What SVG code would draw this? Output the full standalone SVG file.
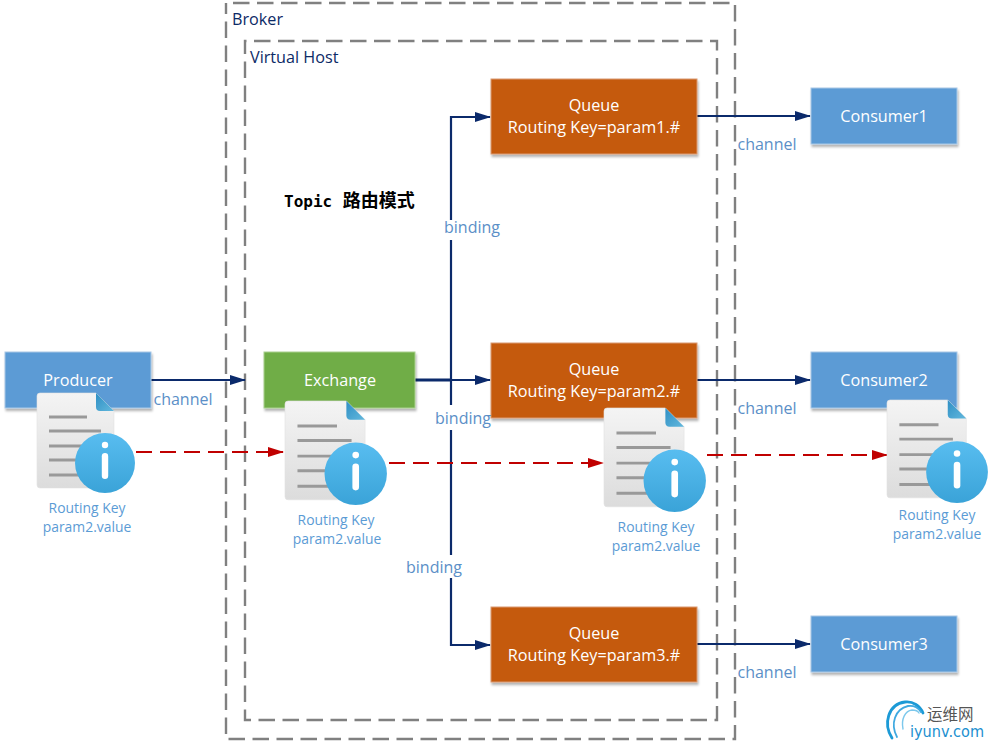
<svg xmlns="http://www.w3.org/2000/svg" width="990" height="747" viewBox="0 0 990 747">
<style>
text{font-family:"Open Sans","Noto Sans","Noto Sans CJK SC",sans-serif}
.box{filter:url(#sh)}
.blue{fill:#5b9bd5;stroke:#a9c8e6;stroke-width:1}
.green{fill:#70ad47;stroke:#a9cf90;stroke-width:1}
.orange{fill:#c55a11;stroke:#d99a70;stroke-width:1}
.w{fill:#fff;font-size:16.2px;text-anchor:middle}
.lab{fill:#5b8fc7;font-size:16px;text-anchor:middle}
.small{fill:#5b9bd5;font-size:13.9px;text-anchor:middle}
.title{fill:#0c2a66;font-size:16.2px}
.frame{fill:none;stroke:#808080;stroke-width:2.4;stroke-dasharray:16.5 7.5}
.c{fill:none;stroke:#0b2a6b;stroke-width:2.2}
.r{fill:none;stroke:#c00000;stroke-width:2;stroke-dasharray:16 8}
</style>
<defs>
<filter id="sh" x="-10%" y="-10%" width="120%" height="125%"><feDropShadow dx="1" dy="2.5" stdDeviation="1.2" flood-color="#000" flood-opacity="0.3"/></filter>
<linearGradient id="paper" x1="0" y1="0" x2="0" y2="1"><stop offset="0" stop-color="#f4f4f4"/><stop offset="1" stop-color="#dcdcdc"/></linearGradient>
<linearGradient id="ball" x1="0" y1="0" x2="0" y2="1"><stop offset="0" stop-color="#58bdf0"/><stop offset="1" stop-color="#3aa3d8"/></linearGradient>
<linearGradient id="fold" x1="0" y1="0" x2="1" y2="1"><stop offset="0" stop-color="#2f8fc4"/><stop offset="1" stop-color="#62b8dd"/></linearGradient>
<marker id="ab" markerUnits="userSpaceOnUse" markerWidth="16" markerHeight="12" refX="15" refY="6" orient="auto"><path d="M0 1L16 6L0 11Z" fill="#0b2a6b"/></marker>
<marker id="ar" markerUnits="userSpaceOnUse" markerWidth="16" markerHeight="12" refX="15" refY="6" orient="auto"><path d="M0 1L16 6L0 11Z" fill="#c00000"/></marker>
<g id="doc">
<path d="M3 0H59L77 18V92Q77 95 74 95H3Q0 95 0 92V3Q0 0 3 0Z" fill="url(#paper)" stroke="#e2e2e2" stroke-width="0.6"/>
<path d="M59 0L77 18H63Q59 18 59 14Z" fill="url(#fold)"/>
<g stroke="#999" stroke-width="2.8" fill="none">
<path d="M12 24H50M12 38H64M12 53H64M12 67H64M12 82H64"/>
</g>
<circle cx="68" cy="70" r="30" fill="url(#ball)"/>
<circle cx="68" cy="52" r="3.2" fill="#fff"/>
<rect x="64.8" y="60" width="6.4" height="26" rx="3.2" fill="#fff"/>
</g>
</defs>

<g id="broker"><rect class="frame" style="stroke-dashoffset:-7" x="226" y="3" width="509" height="736"/><text class="title" x="232" y="25">Broker</text></g>
<g id="vhost"><rect class="frame" style="stroke-dashoffset:-9" x="245" y="41" width="472" height="679"/><text class="title" x="250" y="63">Virtual Host</text></g>
<g id="title"><text x="284" y="207" font-size="16" font-weight="bold" fill="#000" style="font-family:'DejaVu Sans Mono','Noto Sans CJK SC',monospace">Topic <tspan font-size="18" style="font-family:'Noto Sans CJK SC',sans-serif" dx="1">路由模式</tspan></text></g>

<g id="connectors">
<path class="c" d="M151 380H245" marker-end="url(#ab)"/>
<path class="c" style="stroke-width:3" d="M415 380H451"/>
<path class="c" d="M451 380H490" marker-end="url(#ab)"/>
<path class="c" d="M451 220V117H490" marker-end="url(#ab)"/>
<path class="c" d="M451 240V405"/>
<path class="c" d="M451 430V555"/>
<path class="c" d="M451 578V645H490" marker-end="url(#ab)"/>
<path class="c" d="M697 116H810" marker-end="url(#ab)"/>
<path class="c" d="M697 380H810" marker-end="url(#ab)"/>
<path class="c" d="M697 644H810" marker-end="url(#ab)"/>
</g>

<g id="producer"><rect class="blue box" x="5" y="352" width="146" height="56"/><text class="w" x="78" y="386">Producer</text></g>
<g id="exchange"><rect class="green box" x="264" y="352" width="151" height="56"/><text class="w" x="340" y="386">Exchange</text></g>
<g id="queue1"><rect class="orange box" x="491" y="79" width="206" height="75"/><text class="w" x="594" y="111">Queue</text><text class="w" x="594" y="133">Routing Key=param1.#</text></g>
<g id="queue2"><rect class="orange box" x="491" y="343" width="206" height="75"/><text class="w" x="594" y="375">Queue</text><text class="w" x="594" y="397">Routing Key=param2.#</text></g>
<g id="queue3"><rect class="orange box" x="491" y="607" width="206" height="75"/><text class="w" x="594" y="639">Queue</text><text class="w" x="594" y="661">Routing Key=param3.#</text></g>
<g id="consumer1"><rect class="blue box" x="811" y="88" width="146" height="56"/><text class="w" x="884" y="122">Consumer1</text></g>
<g id="consumer2"><rect class="blue box" x="811" y="352" width="146" height="56"/><text class="w" x="884" y="386">Consumer2</text></g>
<g id="consumer3"><rect class="blue box" x="811" y="616" width="146" height="56"/><text class="w" x="884" y="650">Consumer3</text></g>

<g id="labels">
<text class="lab" x="183" y="405">channel</text>
<text class="lab" x="767" y="150">channel</text>
<text class="lab" x="767" y="414">channel</text>
<text class="lab" x="767" y="678">channel</text>
<text class="lab" x="472" y="233">binding</text>
<text class="lab" x="463" y="424">binding</text>
<text class="lab" x="434" y="573">binding</text>
</g>

<g id="redflow">
<path class="r" d="M136 452H283" marker-end="url(#ar)"/>
<path class="r" d="M389 463H603" marker-end="url(#ar)"/>
<path class="r" d="M707 455H887" marker-end="url(#ar)"/>
</g>

<g id="msg1"><use href="#doc" x="37" y="393"/><text class="small" x="87" y="513">Routing Key</text><text class="small" x="87" y="532">param2.value</text></g>
<g id="msg2"><use href="#doc" transform="translate(285 401) scale(1.04)"/><text class="small" x="336" y="525">Routing Key</text><text class="small" x="337" y="544">param2.value</text></g>
<g id="msg3"><use href="#doc" transform="translate(604 408) scale(1.04)"/><text class="small" x="656" y="532">Routing Key</text><text class="small" x="656" y="551">param2.value</text></g>
<g id="msg4"><use href="#doc" transform="translate(887 400) scale(1.03)"/><text class="small" x="937" y="520">Routing Key</text><text class="small" x="937" y="539">param2.value</text></g>

<g id="logo" fill="none" stroke-linecap="round">
<path d="M892 738C883 724 888 704 905 702C913 701 920 706 923 713" stroke="#1c9ad6" stroke-width="2.8"/>
<path d="M897 737C890 724 895 709 908 706C914 705 919 708 921 712" stroke="#3fa9e0" stroke-width="1.8"/>
<path d="M903 729C901 719 905 711 912 710C915 710 918 711 919 713" stroke="#7cc8ec" stroke-width="1.4"/>
<text x="927" y="720" font-size="15.5" fill="#555" stroke="none" style="font-family:'Noto Sans CJK SC',sans-serif">运维网</text>
<text x="910" y="737" font-size="15" fill="#1c8fd0" stroke="none" style="font-family:'DejaVu Sans',sans-serif" textLength="74" lengthAdjust="spacingAndGlyphs">iyunv.com</text>
</g>
</svg>
